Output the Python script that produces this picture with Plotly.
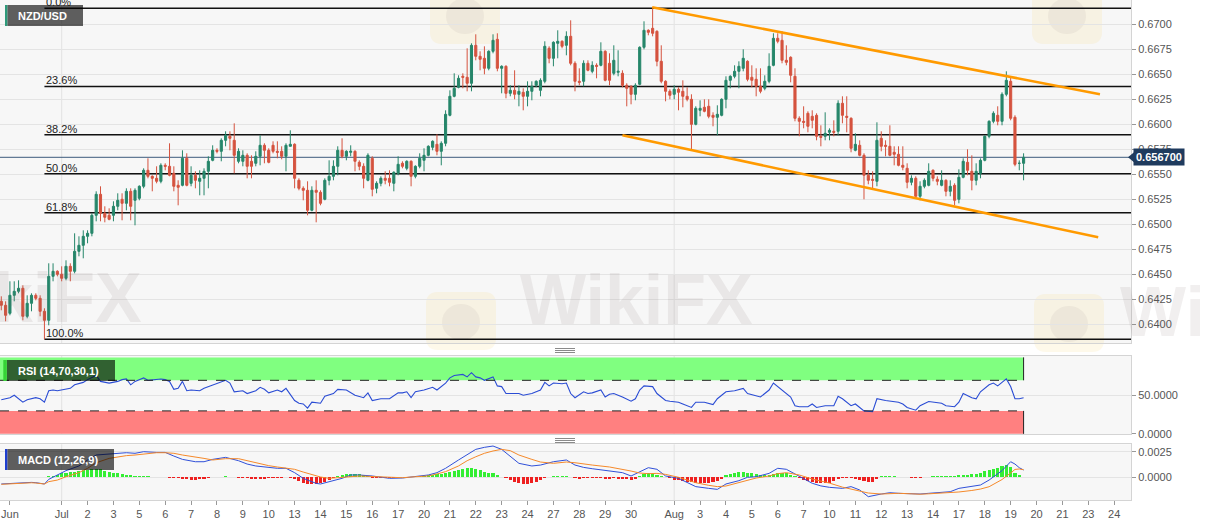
import plotly.graph_objects as go

# ---------------- data (4-hour NZD/USD candles) ----------------
opens = [0.6423,0.6419,0.6411,0.6429,0.6433,0.6436,0.6408,0.6421,0.6429,0.6426,
0.6413,0.6404,0.6448,0.6453,0.6450,0.6446,0.6458,0.6453,0.6473,0.6479,
0.6488,0.6491,0.6509,0.6530,0.6511,0.6509,0.6509,0.6518,0.6525,0.6521,
0.6533,0.6524,0.6526,0.6538,0.6554,0.6548,0.6546,0.6543,0.6559,0.6558,
0.6551,0.6539,0.6539,0.6566,0.6541,0.6549,0.6543,0.6546,0.6553,0.6564,
0.6574,0.6573,0.6584,0.6588,0.6584,0.6563,0.6563,0.6569,0.6563,0.6561,
0.6568,0.6579,0.6574,0.6579,0.6573,0.6573,0.6568,0.6578,0.6580,0.6544,
0.6536,0.6534,0.6514,0.6534,0.6532,0.6525,0.6544,0.6548,0.6558,0.6574,
0.6568,0.6572,0.6573,0.6562,0.6558,0.6544,0.6566,0.6536,0.6541,0.6546,
0.6546,0.6541,0.6551,0.6561,0.6556,0.6563,0.6548,0.6558,0.6564,0.6569,
0.6577,0.6580,0.6573,0.6581,0.6609,0.6628,0.6637,0.6648,0.6647,0.6641,
0.6679,0.6668,0.6666,0.6656,0.6673,0.6685,0.6656,0.6658,0.6631,0.6634,
0.6630,0.6632,0.6628,0.6633,0.6639,0.6634,0.6643,0.6676,0.6666,0.6681,
0.6683,0.6679,0.6688,0.6661,0.6643,0.6643,0.6661,0.6653,0.6659,0.6659,
0.6673,0.6661,0.6651,0.6652,0.6651,0.6639,0.6638,0.6630,0.6640,0.6677,
0.6694,0.6696,0.6693,0.6663,0.6643,0.6633,0.6630,0.6635,0.6633,0.6628,
0.6625,0.6600,0.6614,0.6617,0.6618,0.6609,0.6607,0.6609,0.6625,0.6644,
0.6648,0.6653,0.6656,0.6663,0.6647,0.6645,0.6638,0.6636,0.6643,0.6659,
0.6686,0.6684,0.6664,0.6667,0.6648,0.6606,0.6603,0.6611,0.6608,0.6609,
0.6588,0.6588,0.6592,0.6593,0.6593,0.6621,0.6608,0.6606,0.6574,0.6579,
0.6569,0.6549,0.6545,0.6543,0.6586,0.6579,0.6578,0.6572,0.6570,0.6559,
0.6556,0.6542,0.6546,0.6528,0.6538,0.6539,0.6554,0.6545,0.6539,0.6544,
0.6533,0.6539,0.6525,0.6547,0.6562,0.6553,0.6544,0.6551,0.6564,0.6588,
0.6603,0.6609,0.6603,0.6630,0.6643,0.6607,0.6561,0.6561]

highs = [0.6428,0.6423,0.6443,0.6443,0.6444,0.6439,0.6429,0.6431,0.6431,0.6429,
0.6416,0.6461,0.6461,0.6454,0.6458,0.6464,0.6461,0.6491,0.6488,0.6494,
0.6494,0.6511,0.6533,0.6538,0.6518,0.6516,0.6523,0.6531,0.6531,0.6536,
0.6536,0.6536,0.6539,0.6556,0.6566,0.6549,0.6558,0.6561,0.6561,0.6581,
0.6558,0.6544,0.6574,0.6571,0.6558,0.6553,0.6554,0.6556,0.6568,0.6579,
0.6576,0.6586,0.6593,0.6593,0.6601,0.6576,0.6574,0.6571,0.6569,0.6573,
0.6589,0.6581,0.6576,0.6583,0.6583,0.6578,0.6581,0.6594,0.6581,0.6546,
0.6538,0.6543,0.6538,0.6544,0.6534,0.6546,0.6564,0.6564,0.6578,0.6586,
0.6574,0.6579,0.6574,0.6564,0.6561,0.6571,0.6568,0.6543,0.6548,0.6553,
0.6554,0.6553,0.6568,0.6563,0.6564,0.6564,0.6559,0.6571,0.6576,0.6579,
0.6584,0.6590,0.6583,0.6614,0.6634,0.6651,0.6649,0.6651,0.6676,0.6681,
0.6690,0.6673,0.6678,0.6674,0.6690,0.6691,0.6659,0.6659,0.6639,0.6654,
0.6639,0.6636,0.6643,0.6643,0.6644,0.6646,0.6683,0.6678,0.6683,0.6694,
0.6684,0.6693,0.6704,0.6663,0.6656,0.6664,0.6664,0.6663,0.6661,0.6682,
0.6674,0.6671,0.6679,0.6674,0.6654,0.6641,0.6639,0.6641,0.6678,0.6703,
0.6695,0.6716,0.6694,0.6679,0.6644,0.6635,0.6639,0.6637,0.6644,0.6637,
0.6630,0.6618,0.6624,0.6625,0.6625,0.6612,0.6619,0.6626,0.6648,0.6649,
0.6659,0.6663,0.6675,0.6664,0.6659,0.6656,0.6656,0.6649,0.6671,0.6691,
0.6691,0.6693,0.6679,0.6668,0.6656,0.6608,0.6618,0.6613,0.6614,0.6611,
0.6599,0.6612,0.6596,0.6604,0.6624,0.6628,0.6628,0.6607,0.6591,0.6584,
0.6571,0.6554,0.6553,0.6602,0.6593,0.6584,0.6599,0.6578,0.6578,0.6578,
0.6561,0.6549,0.6548,0.6543,0.6546,0.6561,0.6555,0.6548,0.6554,0.6545,
0.6544,0.6541,0.6555,0.6566,0.6575,0.6569,0.6561,0.6566,0.6589,0.6604,
0.6613,0.6618,0.6632,0.6653,0.6648,0.6609,0.6564,0.6571]

lows = [0.6414,0.6403,0.6409,0.6423,0.6431,0.6404,0.6406,0.6413,0.6424,0.6408,
0.6385,0.6399,0.6443,0.6448,0.6443,0.6444,0.6443,0.6451,0.6468,0.6466,
0.6481,0.6488,0.6503,0.6503,0.6502,0.6504,0.6503,0.6514,0.6504,0.6514,
0.6504,0.6499,0.6524,0.6536,0.6546,0.6533,0.6541,0.6541,0.6554,0.6548,
0.6533,0.6519,0.6538,0.6538,0.6538,0.6536,0.6529,0.6529,0.6536,0.6563,
0.6571,0.6563,0.6578,0.6574,0.6551,0.6561,0.6558,0.6546,0.6546,0.6558,
0.6559,0.6561,0.6561,0.6571,0.6566,0.6565,0.6553,0.6578,0.6536,0.6534,
0.6524,0.6509,0.6513,0.6502,0.6519,0.6524,0.6539,0.6544,0.6549,0.6566,
0.6564,0.6568,0.6553,0.6554,0.6536,0.6543,0.6528,0.6531,0.6538,0.6540,
0.6538,0.6533,0.6549,0.6556,0.6554,0.6538,0.6546,0.6556,0.6553,0.6568,
0.6574,0.6569,0.6559,0.6578,0.6608,0.6627,0.6636,0.6636,0.6633,0.6633,
0.6664,0.6654,0.6650,0.6654,0.6671,0.6653,0.6631,0.6626,0.6628,0.6625,
0.6618,0.6614,0.6618,0.6624,0.6637,0.6628,0.6641,0.6661,0.6658,0.6666,
0.6676,0.6669,0.6659,0.6633,0.6639,0.6638,0.6653,0.6651,0.6646,0.6658,
0.6643,0.6639,0.6649,0.6648,0.6637,0.6618,0.6620,0.6624,0.6639,0.6675,
0.6689,0.6688,0.6658,0.6641,0.6623,0.6625,0.6625,0.6614,0.6617,0.6623,
0.6575,0.6599,0.6608,0.6612,0.6606,0.6598,0.6589,0.6608,0.6616,0.6636,
0.6646,0.6636,0.6653,0.6643,0.6637,0.6628,0.6631,0.6634,0.6641,0.6658,
0.6681,0.6661,0.6659,0.6642,0.6603,0.6588,0.6596,0.6592,0.6596,0.6584,
0.6578,0.6584,0.6584,0.6588,0.6589,0.6601,0.6592,0.6572,0.6573,0.6568,
0.6525,0.6540,0.6535,0.6538,0.6573,0.6568,0.6568,0.6559,0.6558,0.6554,
0.6536,0.6539,0.6526,0.6524,0.6536,0.6538,0.6543,0.6539,0.6538,0.6528,
0.6528,0.6519,0.6521,0.6546,0.6549,0.6534,0.6539,0.6546,0.6563,0.6586,
0.6601,0.6599,0.6599,0.6628,0.6604,0.6558,0.6554,0.6544]

closes = [0.6419,0.6409,0.6429,0.6433,0.6436,0.6408,0.6421,0.6429,0.6426,0.6413,
0.6404,0.6448,0.6453,0.6450,0.6446,0.6458,0.6453,0.6473,0.6479,0.6488,
0.6491,0.6509,0.6530,0.6511,0.6507,0.6505,0.6518,0.6524,0.6521,0.6533,
0.6518,0.6534,0.6538,0.6554,0.6548,0.6546,0.6543,0.6559,0.6558,0.6549,
0.6538,0.6537,0.6566,0.6539,0.6549,0.6544,0.6546,0.6553,0.6563,0.6574,
0.6573,0.6584,0.6589,0.6586,0.6569,0.6573,0.6569,0.6558,0.6558,0.6568,
0.6579,0.6574,0.6562,0.6573,0.6572,0.6568,0.6579,0.6580,0.6546,0.6536,
0.6534,0.6514,0.6534,0.6532,0.6521,0.6544,0.6548,0.6558,0.6574,0.6568,
0.6573,0.6573,0.6563,0.6558,0.6546,0.6569,0.6535,0.6541,0.6546,0.6544,
0.6542,0.6552,0.6560,0.6558,0.6563,0.6548,0.6558,0.6566,0.6569,0.6578,
0.6583,0.6573,0.6581,0.6610,0.6628,0.6636,0.6646,0.6647,0.6641,0.6679,
0.6668,0.6665,0.6656,0.6673,0.6684,0.6656,0.6658,0.6631,0.6634,0.6630,
0.6633,0.6628,0.6633,0.6638,0.6643,0.6644,0.6678,0.6666,0.6682,0.6683,
0.6678,0.6688,0.6661,0.6643,0.6642,0.6661,0.6654,0.6659,0.6658,0.6673,
0.6644,0.6644,0.6664,0.6653,0.6639,0.6636,0.6630,0.6639,0.6677,0.6694,
0.6692,0.6691,0.6663,0.6643,0.6633,0.6629,0.6635,0.6632,0.6628,0.6625,
0.6600,0.6616,0.6616,0.6613,0.6608,0.6607,0.6610,0.6625,0.6644,0.6648,
0.6653,0.6658,0.6666,0.6645,0.6644,0.6638,0.6633,0.6643,0.6658,0.6686,
0.6683,0.6664,0.6662,0.6649,0.6606,0.6603,0.6602,0.6598,0.6604,0.6588,
0.6587,0.6591,0.6594,0.6592,0.6621,0.6609,0.6607,0.6576,0.6580,0.6569,
0.6549,0.6544,0.6544,0.6584,0.6578,0.6578,0.6569,0.6570,0.6559,0.6557,
0.6542,0.6546,0.6528,0.6538,0.6544,0.6553,0.6546,0.6543,0.6544,0.6533,
0.6538,0.6524,0.6547,0.6563,0.6554,0.6544,0.6553,0.6564,0.6588,0.6603,
0.6611,0.6603,0.6630,0.6644,0.6606,0.6560,0.6561,0.6567]

# x-axis labels (positions in candle index units)
tick_pos = [2, 14, 20, 26, 32, 38, 44, 50, 56, 62, 68, 74, 80, 86, 92, 98, 104, 110,
            116, 122, 128, 134, 140, 146, 156, 162, 168, 174, 180, 186, 192, 198,
            204, 210, 216, 222, 228, 234, 240, 246, 252, 258]
tick_labels = ["Jun", "Jul", "2", "3", "5", "6", "7", "8", "9", "10", "13", "14", "15",
               "16", "17", "20", "21", "22", "23", "24", "27", "28", "29", "30", "Aug",
               "3", "4", "5", "6", "7", "10", "11", "12", "13", "14", "17", "18", "19",
               "20", "21", "23", "24"]

# Fibonacci retracement
fib_high = 0.6716
fib_low = 0.6385
fib_start = 10
fib_ratios = [0.0, 0.236, 0.382, 0.5, 0.618, 1.0]
fib_labels = ["0.0%", "23.6%", "38.2%", "50.0%", "61.8%", "100.0%"]

# descending channel
upper_x = [150.9, 254.7]
upper_y = [0.6717, 0.6630]
lower_x = [144.0, 254.3]
lower_y = [0.6589, 0.6487]

# RSI (14) readings
rsi_x = [0,2,3,5,6,8,9,10,11,12,13,15,16,17,18,19,20,22,23,25,27,28,29,30,31,33,34,36,37,38,
         39,40,41,42,43,44,46,47,49,50,52,53,54,56,57,59,60,61,62,64,65,66,68,69,70,71,72,74,
         75,77,78,80,82,84,85,86,88,90,92,93,94,95,96,98,100,101,103,104,105,107,108,109,110,
         111,112,114,115,116,117,119,120,121,123,124,125,126,127,128,130,131,132,133,135,136,
         137,139,140,141,142,144,146,147,148,149,151,152,154,155,157,158,160,161,163,165,166,
         168,170,172,173,176,178,179,180,181,183,184,185,187,188,189,191,193,194,195,197,198,
         200,202,203,205,208,209,210,212,213,215,216,218,219,221,222,223,225,226,227,229,230,
         231,233,234,235,236,237]
rsi_vals = [44.5,47.3,50.5,41.4,44.5,47.3,45.9,41.4,56.4,57.3,56.4,58.2,59.5,64.1,65.5,67.3,
            70.9,76.4,68.6,66.4,68.6,70.9,71.8,64.1,68.6,73.2,70.0,70.9,71.8,70.9,68.6,58.2,
            59.5,68.6,56.4,57.3,56.4,59.5,64.1,66.4,70.0,66.4,55.0,56.4,52.7,56.4,60.9,58.2,
            53.6,57.3,55.0,59.5,43.6,40.0,39.1,33.6,41.4,40.0,49.1,52.7,58.2,57.3,50.5,47.3,
            53.6,43.6,45.9,45.9,53.6,53.6,55.0,47.3,55.0,57.3,60.9,57.3,66.4,73.2,76.4,77.7,
            74.5,80.0,74.5,73.2,70.0,74.5,62.7,61.8,52.7,52.7,52.7,50.5,52.7,55.0,57.3,67.3,
            62.7,66.4,65.5,66.4,52.7,47.3,55.0,52.7,53.6,57.3,48.2,51.8,52.7,48.2,42.7,45.9,
            57.3,62.7,61.8,52.7,43.6,42.7,41.4,39.1,34.5,41.4,41.4,38.2,45.9,55.0,56.4,59.5,
            52.7,48.2,57.3,66.4,61.8,57.3,48.2,36.8,35.5,35.5,39.1,34.5,36.8,36.8,49.1,45.9,
            36.8,39.1,30.0,29.1,45.9,43.6,41.4,39.1,34.5,30.9,36.8,42.3,41.4,40.0,36.8,35.5,
            41.4,52.7,47.3,45.9,55.0,64.1,66.4,62.7,71.8,61.8,45.9,45.9,47.3]

# MACD (12,26,9) line readings
macd_x = [0,2,5,7,8,10,11,13,15,18,20,22,25,27,29,31,33,36,38,40,42,45,47,49,52,55,57,59,62,
          64,66,68,70,73,74,76,79,81,83,86,88,90,93,96,99,101,103,106,108,110,112,114,116,
          118,120,123,125,128,131,133,135,137,141,144,146,148,150,152,154,157,159,161,164,
          166,168,171,173,175,178,180,182,185,188,190,192,195,197,199,201,204,206,208,211,
          213,215,218,220,222,225,227,229,232,234,235,236,237]
macd_vals = [-0.00069,-0.00063,-0.00056,-0.00053,-0.00056,-0.00069,-0.00023,0.00020,0.00063,
             0.00109,0.00168,0.00217,0.00227,0.00234,0.00240,0.00234,0.00250,0.00243,0.00243,
             0.00207,0.00174,0.00151,0.00151,0.00174,0.00194,0.00161,0.00128,0.00109,0.00092,
             0.00086,0.00086,0.00043,-0.00013,-0.00063,-0.00069,-0.00046,-0.00013,0.00020,
             0.00020,0.00010,-0.00003,-0.00013,-0.00010,0.00003,0.00020,0.00043,0.00086,
             0.00168,0.00217,0.00273,0.00293,0.00306,0.00273,0.00200,0.00135,0.00109,0.00118,
             0.00151,0.00168,0.00118,0.00095,0.00082,0.00063,0.00043,0.00010,0.00053,0.00092,
             0.00076,0.00010,-0.00013,-0.00056,-0.00095,-0.00112,-0.00122,-0.00069,-0.00036,
             -0.00003,0.00003,0.00036,0.00086,0.00076,0.00010,-0.00062,-0.00088,-0.00102,
             -0.00112,-0.00095,-0.00128,-0.00194,-0.00168,-0.00155,-0.00161,-0.00168,-0.00168,
             -0.00161,-0.00155,-0.00145,-0.00112,-0.00095,-0.00079,-0.00030,0.00063,0.00151,
             0.00128,0.00092,0.00069]
signal_vals = [-0.00072,-0.00066,-0.00060,-0.00057,-0.00059,-0.00069,-0.00046,-0.00030,
               0.00003,0.00043,0.00086,0.00141,0.00184,0.00200,0.00211,0.00217,0.00227,
               0.00240,0.00240,0.00234,0.00217,0.00200,0.00184,0.00168,0.00181,0.00181,
               0.00161,0.00141,0.00112,0.00099,0.00089,0.00076,0.00049,0.00010,0.00000,
               -0.00013,-0.00007,0.00003,0.00010,0.00003,0.00003,-0.00003,-0.00007,0.00003,
               0.00010,0.00030,0.00053,0.00109,0.00161,0.00200,0.00234,0.00257,0.00273,
               0.00260,0.00217,0.00174,0.00148,0.00135,0.00148,0.00141,0.00128,0.00118,
               0.00099,0.00079,0.00059,0.00039,0.00033,0.00036,0.00026,-0.00003,-0.00030,
               -0.00056,-0.00082,-0.00095,-0.00089,-0.00056,-0.00030,-0.00010,0.00010,
               0.00033,0.00043,0.00020,-0.00020,-0.00040,-0.00060,-0.00100,-0.00118,-0.00140,
               -0.00158,-0.00168,-0.00164,-0.00161,-0.00166,-0.00170,-0.00166,-0.00161,
               -0.00155,-0.00148,-0.00133,-0.00119,-0.00096,-0.00025,0.00040,0.00075,0.00079,
               0.00072]

# MACD histogram readings, one per candle
hist_vals = [0.00003,0.00003,0.00003,0.00003,0.00003,0.00003,0.00003,0.00003,0.00003,0.00003,
0.00003,0.00007,0.00013,0.00023,0.00036,0.00043,0.00046,0.00053,0.00063,0.00066,
0.00072,0.00082,0.00082,0.00076,0.00063,0.00049,0.00043,0.00036,0.00030,0.00023,
0.00020,0.00010,0.00007,0.00007,0.00007,0.00003,0.00003,0.00003,0.00003,-0.00007,
-0.00010,-0.00013,-0.00020,-0.00023,-0.00030,-0.00026,-0.00023,-0.00020,-0.00010,-0.00003,
0.00003,0.00003,0.00007,0.00003,0.00003,-0.00007,-0.00010,-0.00013,-0.00020,-0.00023,
-0.00023,-0.00020,-0.00013,-0.00010,-0.00007,-0.00007,-0.00003,-0.00010,-0.00023,-0.00043,
-0.00059,-0.00069,-0.00069,-0.00066,-0.00059,-0.00049,-0.00030,-0.00013,0.00010,0.00020,
0.00026,0.00030,0.00030,0.00026,0.00020,0.00013,-0.00007,-0.00010,-0.00013,-0.00013,
-0.00010,-0.00007,-0.00003,0.00003,0.00003,0.00003,0.00003,0.00007,0.00010,0.00016,
0.00023,0.00026,0.00030,0.00039,0.00049,0.00063,0.00072,0.00079,0.00086,0.00089,
0.00082,0.00069,0.00053,0.00043,0.00036,0.00020,0.00003,-0.00013,-0.00030,-0.00046,
-0.00063,-0.00069,-0.00069,-0.00063,-0.00049,-0.00030,-0.00013,-0.00003,0.00010,0.00013,
0.00013,0.00010,-0.00003,-0.00013,-0.00016,-0.00013,-0.00013,-0.00010,-0.00010,-0.00013,
-0.00016,-0.00016,-0.00013,-0.00016,-0.00020,-0.00023,-0.00030,-0.00023,0.00010,0.00026,
0.00036,0.00033,0.00023,0.00013,-0.00003,-0.00013,-0.00026,-0.00033,-0.00039,-0.00046,
-0.00053,-0.00056,-0.00063,-0.00063,-0.00059,-0.00049,-0.00039,-0.00023,0.00016,0.00030,
0.00039,0.00046,0.00049,0.00043,0.00036,0.00030,0.00023,0.00020,0.00023,0.00033,
0.00039,0.00043,0.00036,0.00023,0.00010,-0.00013,-0.00030,-0.00039,-0.00049,-0.00056,
-0.00063,-0.00063,-0.00056,-0.00043,-0.00023,-0.00010,-0.00007,-0.00010,-0.00016,-0.00026,
-0.00039,-0.00053,-0.00049,-0.00023,0.00007,0.00007,0.00007,0.00007,0.00003,0.00003,
-0.00003,-0.00007,-0.00007,-0.00007,-0.00003,0.00003,0.00007,0.00007,0.00007,0.00007,
0.00007,0.00010,0.00016,0.00020,0.00023,0.00026,0.00030,0.00039,0.00056,0.00069,
0.00079,0.00086,0.00105,0.00115,0.00102,0.00043,0.00020,-0.00003]

# ---------------- styling ----------------
UP = "#26866a"
DN = "#d5533f"
FONT = "Liberation Sans, Arial, sans-serif"
PLOT_W, PLOT_H = 1131, 500          # plot area in pixels (for decoration placement)
x_range = [-0.3, 261.9]


def px(x):
    return x / PLOT_W


def py(y):
    return 1 - y / PLOT_H


idx = list(range(len(closes)))
last = closes[-1]

fig = go.Figure()

fig.add_trace(go.Candlestick(
    x=idx, open=opens, high=highs, low=lows, close=closes,
    increasing=dict(line=dict(color=UP, width=1), fillcolor=UP),
    decreasing=dict(line=dict(color=DN, width=1), fillcolor=DN),
    whiskerwidth=0, showlegend=False, hoverinfo="skip", xaxis="x", yaxis="y"))

for cx, cy in ((upper_x, upper_y), (lower_x, lower_y)):
    fig.add_trace(go.Scatter(x=cx, y=cy, mode="lines", line=dict(color="#ff9a00", width=2.5),
                             showlegend=False, hoverinfo="skip", xaxis="x", yaxis="y"))

fig.add_trace(go.Scatter(x=rsi_x, y=rsi_vals, mode="lines", line=dict(color="#2a4cd4", width=1.1),
                         showlegend=False, hoverinfo="skip", xaxis="x2", yaxis="y2"))

fig.add_trace(go.Bar(x=idx, y=hist_vals, width=0.72,
                     marker=dict(color=["#33ee33" if h >= 0 else "#ee2020" for h in hist_vals],
                                 line=dict(width=0)),
                     showlegend=False, hoverinfo="skip", xaxis="x3", yaxis="y3"))
fig.add_trace(go.Scatter(x=macd_x, y=macd_vals, mode="lines", line=dict(color="#3050d8", width=1),
                         showlegend=False, hoverinfo="skip", xaxis="x3", yaxis="y3"))
fig.add_trace(go.Scatter(x=macd_x, y=signal_vals, mode="lines", line=dict(color="#f5892a", width=1),
                         showlegend=False, hoverinfo="skip", xaxis="x3", yaxis="y3"))

shapes = []
annotations = []


def rounded_rect(x0, y0, x1, y1, r):
    """SVG path (paper coords) of a rounded rectangle given in pixel coords."""
    pts = [
        f"M {px(x0 + r)},{py(y0)}", f"L {px(x1 - r)},{py(y0)}", f"Q {px(x1)},{py(y0)} {px(x1)},{py(y0 + r)}",
        f"L {px(x1)},{py(y1 - r)}", f"Q {px(x1)},{py(y1)} {px(x1 - r)},{py(y1)}",
        f"L {px(x0 + r)},{py(y1)}", f"Q {px(x0)},{py(y1)} {px(x0)},{py(y1 - r)}",
        f"L {px(x0)},{py(y0 + r)}", f"Q {px(x0)},{py(y0)} {px(x0 + r)},{py(y0)}", "Z"]
    return " ".join(pts)


# faint logo watermarks
for lx0, ly0 in ((430, -14), (1032, -14), (426, 292), (1034, 294)):
    shapes.append(dict(type="path", xref="paper", yref="paper", path=rounded_rect(lx0, ly0, lx0 + 70, ly0 + 58, 12),
                       fillcolor="rgba(245,205,90,0.13)", line=dict(width=0), layer="below"))
    shapes.append(dict(type="circle", xref="paper", yref="paper", x0=px(lx0 + 16), x1=px(lx0 + 54),
                       y0=py(ly0 + 48), y1=py(ly0 + 12), fillcolor="rgba(110,100,100,0.07)",
                       line=dict(width=0), layer="below"))

# month separators in every panel
for p, lab in zip(tick_pos, tick_labels):
    if lab in ("Jul", "Aug"):
        for xr, yr in (("x", "y domain"), ("x2", "y2 domain"), ("x3", "y3 domain")):
            shapes.append(dict(type="line", xref=xr, yref=yr, x0=p, x1=p, y0=0, y1=1,
                               line=dict(color="#e2e2e2", width=1), layer="below"))

# fibonacci levels
for r, lab in zip(fib_ratios, fib_labels):
    lvl = fib_high - r * (fib_high - fib_low)
    shapes.append(dict(type="line", xref="x", yref="y", x0=fib_start, x1=x_range[1], y0=lvl, y1=lvl,
                       line=dict(color="#111111", width=1.5), layer="between"))
    annotations.append(dict(x=fib_start, y=lvl, xref="x", yref="y", text=lab, showarrow=False,
                            xanchor="left", yanchor="bottom", yshift=-2,
                            font=dict(family=FONT, size=11, color="#222222")))

# current price line + tag (with small pointer)
shapes.append(dict(type="line", xref="x", yref="y", x0=x_range[0], x1=x_range[1], y0=last, y1=last,
                   line=dict(color="#3d5a7c", width=1), layer="between"))
shapes.append(dict(type="path", xref="paper", yref="y",
                   path=f"M {px(1128)},{last} L {px(1134)},{last + 0.0005} L {px(1134)},{last - 0.0005} Z",
                   fillcolor="#1f3b5e", line=dict(width=0), layer="above"))
annotations.append(dict(x=1, y=last, xref="paper", yref="y", text=f"<b>{last:.6f}</b>", showarrow=False,
                        xanchor="left", yanchor="middle", xshift=2, bgcolor="#1f3b5e", borderpad=2,
                        font=dict(family=FONT, size=11, color="white")))

# RSI zones
end_x = idx[-1]
shapes.append(dict(type="rect", xref="x2", yref="y2", x0=x_range[0], x1=end_x, y0=70, y1=100,
                   fillcolor="#80ff80", line=dict(width=0), layer="below"))
shapes.append(dict(type="rect", xref="x2", yref="y2", x0=x_range[0], x1=end_x, y0=0, y1=30,
                   fillcolor="#ff8080", line=dict(width=0), layer="below"))
for lv in (70, 30):
    shapes.append(dict(type="line", xref="x2", yref="y2", x0=x_range[0], x1=end_x, y0=lv, y1=lv,
                       line=dict(color="#222222", width=1, dash="dash"), layer="above"))
for y0, y1 in ((70, 100), (0, 30)):
    shapes.append(dict(type="line", xref="x2", yref="y2", x0=end_x, x1=end_x, y0=y0, y1=y1,
                       line=dict(color="#222222", width=1), layer="above"))

# panel title boxes
boxes = [
    ("NZD/USD", 7.3, 83, 5, 26, "#2e9a7a", 5, 7.3),
    ("RSI (14,70,30,1)", 6.7, 115, 360, 381, "#36d336", 3.3, 6.7),
    ("MACD (12,26,9)", 7.3, 114, 449, 470, "#1f3fcf", 5, 7.3),
]
for text, bx0, bx1, by0, by1, barc, lx0, lx1 in boxes:
    shapes.append(dict(type="rect", xref="paper", yref="paper", x0=px(bx0), x1=px(bx1),
                       y0=py(by1), y1=py(by0), fillcolor="rgba(0,0,0,0.62)", line=dict(width=0), layer="above"))
    shapes.append(dict(type="rect", xref="paper", yref="paper", x0=px(lx0), x1=px(lx1),
                       y0=py(by1), y1=py(by0), fillcolor=barc, line=dict(width=0), layer="above"))
    annotations.append(dict(x=px(16), y=py((by0 + by1) / 2), xref="paper", yref="paper",
                            text=f"<b>{text}</b>", showarrow=False, xanchor="left", yanchor="middle",
                            font=dict(family=FONT, size=11, color="white")))

# panel resize handles
for base in (348.5, 438.5):
    for k in range(3):
        yy = py(base + 2 * k)
        shapes.append(dict(type="line", xref="paper", yref="paper", x0=px(555), x1=px(575),
                           y0=yy, y1=yy, line=dict(color="#8a8a8a", width=1), layer="above"))

# text watermarks
for wx, wy in ((25, 298), (636, 300), (1236, 312)):
    annotations.append(dict(x=px(wx), y=py(wy), xref="paper", yref="paper", text="<b>WikiFX</b>",
                            showarrow=False, xanchor="center", yanchor="middle",
                            font=dict(family=FONT, size=70, color="rgba(120,100,100,0.10)")))

axis_font = dict(family=FONT, size=11, color="#555555")
common_x = dict(range=x_range, showgrid=False, zeroline=False, showline=True, linecolor="#d4d4d4",
                mirror=True, fixedrange=True, domain=[0, 1])
common_y = dict(side="right", showline=True, linecolor="#d4d4d4", mirror=True, zeroline=False,
                ticks="outside", ticklen=4, tickcolor="#999999", tickfont=axis_font,
                gridcolor="#e4e4e4", tickformat=".4f", fixedrange=True)

fig.update_layout(
    width=1207, height=526,
    margin=dict(l=0, r=76, t=0, b=26),
    paper_bgcolor="white", plot_bgcolor="#f7f7f7",
    showlegend=False, hovermode=False,
    xaxis=dict(**common_x, anchor="y", showticklabels=False, rangeslider=dict(visible=False)),
    xaxis2=dict(**common_x, anchor="y2", showticklabels=False),
    xaxis3=dict(**common_x, anchor="y3", tickmode="array", tickvals=tick_pos, ticktext=tick_labels,
                ticks="outside", ticklen=4, tickcolor="#999999", tickfont=axis_font),
    yaxis=dict(**common_y, domain=[0.314, 1.0], range=[0.63813, 0.67243], anchor="x",
               dtick=0.0025, tick0=0.64),
    yaxis2=dict(**common_y, domain=[0.1314, 0.2886], range=[-0.6, 102.2], anchor="x2",
                tickmode="array", tickvals=[0, 50]),
    yaxis3=dict(**common_y, domain=[0.0, 0.1114], range=[-0.00227, 0.00323], anchor="x3",
                tickmode="array", tickvals=[0, 0.0025]),
    shapes=shapes,
    annotations=annotations,
    bargap=0,
)

fig.write_html("out.html", config={"displayModeBar": False, "staticPlot": True},
               post_script="document.body.style.margin='0';document.documentElement.style.overflow='hidden';")
